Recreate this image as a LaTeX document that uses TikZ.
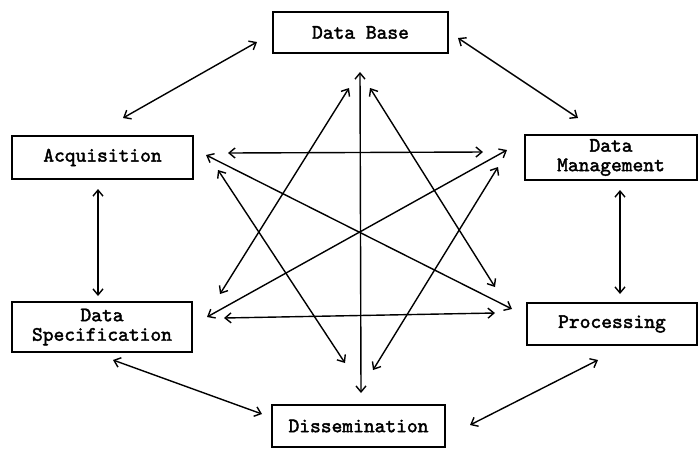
\documentclass[tikz,border=0pt]{standalone}
\usepackage{fontspec}
\newfontfamily\boxfont{lmmono10-regular.otf}[FakeBold=2]
\usetikzlibrary{arrows.meta}
\begin{document}
\begin{tikzpicture}[x=1pt,y=-1pt,
  box/.style={draw,line width=1.5pt,rectangle,inner sep=0pt,align=center,
    font=\fontsize{20.5}{19.5}\selectfont\boxfont},
  link/.style={line width=1.4pt,{Straight Barb[length=6pt,width=10pt]}-{Straight Barb[length=6pt,width=10pt]}}]
\useasboundingbox (0,0) rectangle (700,451);
% boxes
\node[box,minimum width=175pt,minimum height=41pt] (db) at (360.5,32.5) {Data Base};
\node[box,minimum width=181pt,minimum height=43pt] (acq) at (102.5,157.5) {Acquisition};
\node[box,minimum width=172pt,minimum height=45pt] (dm) at (611,157.5) {Data\\Management};
\node[box,minimum width=180pt,minimum height=50pt] (ds) at (102,327) {Data\\Specification};
\node[box,minimum width=170pt,minimum height=42pt] (pr) at (612,324) {Processing};
\node[box,minimum width=173pt,minimum height=42pt] (di) at (358.5,426) {Dissemination};
% endpoints
\coordinate (a1) at (257,42);  \coordinate (a2) at (123,118);
\coordinate (b1) at (458,38);  \coordinate (b2) at (578,118);
\coordinate (c1) at (98,189);  \coordinate (c2) at (98,296);
\coordinate (d1) at (620,190); \coordinate (d2) at (620,294);
\coordinate (e1) at (113,360); \coordinate (e2) at (262,414);
\coordinate (f1) at (470,425); \coordinate (f2) at (598,360);
\coordinate (s1a) at (228,153); \coordinate (s1b) at (483,152);
\coordinate (s2a) at (224,318); \coordinate (s2b) at (495,313);
\coordinate (s3a) at (206,155); \coordinate (s3b) at (512,309);
\coordinate (s4a) at (207,317); \coordinate (s4b) at (507,150);
\coordinate (s5a) at (349,88);  \coordinate (s5b) at (220,294);
\coordinate (s6a) at (370,88);  \coordinate (s6b) at (495,287);
\coordinate (s7a) at (218,170); \coordinate (s7b) at (345,363);
\coordinate (s8a) at (498,167); \coordinate (s8b) at (373,370);
\coordinate (s9a) at (360,72);  \coordinate (s9b) at (361,393);
% outer arrows
\draw[link] (a1) -- (a2);
\draw[link] (b1) -- (b2);
\draw[link] (c1) -- (c2);
\draw[link] (d1) -- (d2);
\draw[link] (e1) -- (e2);
\draw[link] (f1) -- (f2);
% star
\draw[link] (s1a) -- (s1b);
\draw[link] (s2a) -- (s2b);
\draw[link] (s3a) -- (s3b);
\draw[link] (s4a) -- (s4b);
\draw[link] (s5a) -- (s5b);
\draw[link] (s6a) -- (s6b);
\draw[link] (s7a) -- (s7b);
\draw[link] (s8a) -- (s8b);
\draw[link] (s9a) -- (s9b);
\end{tikzpicture}
\end{document}
